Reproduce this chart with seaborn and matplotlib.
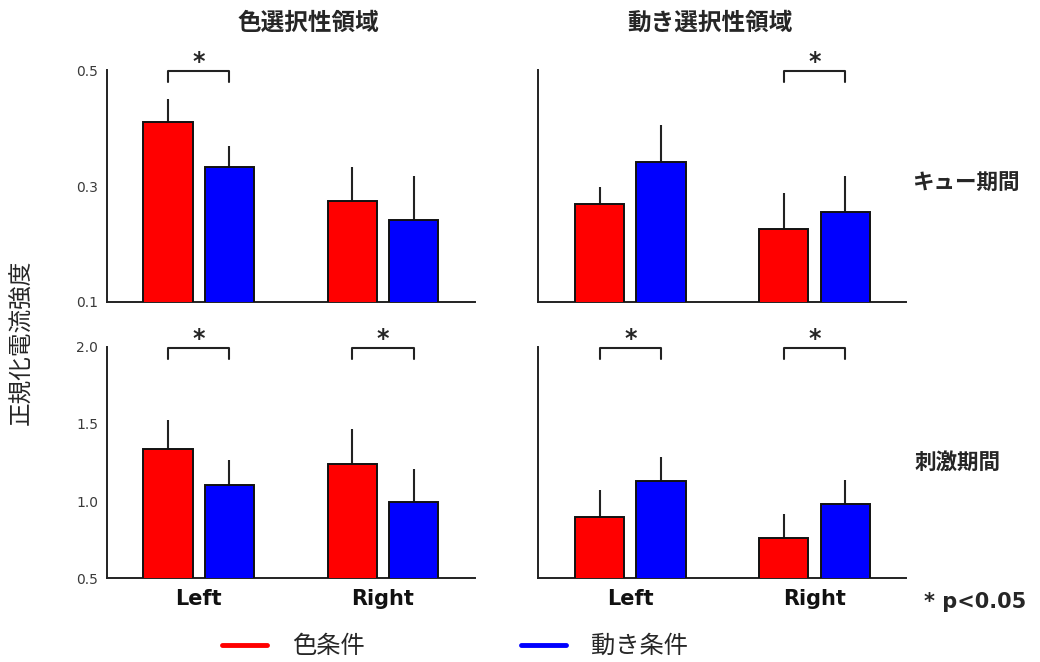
import matplotlib
matplotlib.use("Agg")
import matplotlib.pyplot as plt
from matplotlib.lines import Line2D
import pandas as pd
import seaborn as sns

# ---- data -------------------------------------------------------------
sides = ["Left", "Right"]
conditions = ["色条件", "動き条件"]
regions = ["色選択性領域", "動き選択性領域"]
periods = ["キュー期間", "刺激期間"]

# cue period, color-selective area
cue_colorarea_color = [0.411, 0.274]
cue_colorarea_motion = [0.333, 0.242]
cue_colorarea_color_err = [0.039, 0.058]
cue_colorarea_motion_err = [0.036, 0.075]

# cue period, motion-selective area
cue_motionarea_color = [0.269, 0.225]
cue_motionarea_motion = [0.342, 0.255]
cue_motionarea_color_err = [0.029, 0.063]
cue_motionarea_motion_err = [0.064, 0.063]

# stimulus period, color-selective area
stim_colorarea_color = [1.339, 1.238]
stim_colorarea_motion = [1.102, 0.995]
stim_colorarea_color_err = [0.183, 0.226]
stim_colorarea_motion_err = [0.162, 0.215]

# stimulus period, motion-selective area
stim_motionarea_color = [0.896, 0.760]
stim_motionarea_motion = [1.133, 0.978]
stim_motionarea_color_err = [0.174, 0.157]
stim_motionarea_motion_err = [0.152, 0.157]

# sides with p < 0.05
cue_colorarea_sig = ["Left"]
cue_motionarea_sig = ["Right"]
stim_colorarea_sig = ["Left", "Right"]
stim_motionarea_sig = ["Left", "Right"]

cue_ylim = (0.1, 0.5)
cue_yticks = [0.1, 0.3, 0.5]
stim_ylim = (0.5, 2.0)
stim_yticks = [0.5, 1.0, 1.5, 2.0]

# ---- style ------------------------------------------------------------
sns.set_style("white")
plt.rcParams["font.family"] = ["DejaVu Sans", "Noto Sans CJK JP"]
JP = ["Noto Sans CJK JP", "DejaVu Sans"]
palette = ["#ff0000", "#0000ff"]

fig = plt.figure(figsize=(10.4, 6.62), dpi=100)

col_x = [0.1026, 0.5176]
row_y = [0.544, 0.1264]
ax_w, ax_h = 0.354, 0.350

panels = [
    [(cue_colorarea_color, cue_colorarea_motion, cue_colorarea_color_err,
      cue_colorarea_motion_err, cue_colorarea_sig),
     (cue_motionarea_color, cue_motionarea_motion, cue_motionarea_color_err,
      cue_motionarea_motion_err, cue_motionarea_sig)],
    [(stim_colorarea_color, stim_colorarea_motion, stim_colorarea_color_err,
      stim_colorarea_motion_err, stim_colorarea_sig),
     (stim_motionarea_color, stim_motionarea_motion, stim_motionarea_color_err,
      stim_motionarea_motion_err, stim_motionarea_sig)],
]
row_limits = [(cue_ylim, cue_yticks), (stim_ylim, stim_yticks)]

for r in range(2):
    ylim, yticks = row_limits[r]
    span = ylim[1] - ylim[0]
    for c in range(2):
        col_vals, mot_vals, col_err, mot_err, sig = panels[r][c]
        df = pd.DataFrame({
            "side": sides * 2,
            "condition": [conditions[0]] * 2 + [conditions[1]] * 2,
            "value": col_vals + mot_vals,
        })
        ax = fig.add_axes([col_x[c], row_y[r], ax_w, ax_h])
        sns.barplot(data=df, x="side", y="value", hue="condition",
                    order=sides, hue_order=conditions, palette=palette,
                    saturation=1, width=0.667, gap=0.2, edgecolor="#111111",
                    linewidth=1.4, errorbar=None, legend=False, ax=ax,
                    zorder=3)
        # one-sided (upper) error bars
        for cont, errs in zip(ax.containers, [col_err, mot_err]):
            for bar, e in zip(cont, errs):
                xc = bar.get_x() + bar.get_width() / 2
                ax.errorbar(xc, bar.get_height(), yerr=[[0], [e]],
                            fmt="none", ecolor="#222222", elinewidth=1.5,
                            capsize=0, zorder=2)
        # significance brackets
        for s in sig:
            i = sides.index(s)
            b0 = ax.containers[0][i]
            b1 = ax.containers[1][i]
            x0 = b0.get_x() + b0.get_width() / 2
            x1 = b1.get_x() + b1.get_width() / 2
            top = ylim[1] - 0.005 * span
            leg = ylim[1] - 0.053 * span
            ax.plot([x0, x0, x1, x1], [leg, top, top, leg], color="#222222",
                    lw=1.5, clip_on=False, zorder=4)
            ax.text((x0 + x1) / 2, ylim[1] + 0.035 * span, "*",
                    ha="center", va="center", fontsize=17, fontweight="bold",
                    clip_on=False)

        ax.set_xlim(-0.5, 1.5)
        ax.set_ylim(*ylim)
        ax.set_yticks(yticks)
        ax.set_xlabel("")
        ax.set_ylabel("")
        sns.despine(ax=ax)
        for sp in ("left", "bottom"):
            ax.spines[sp].set_color("#222222")
            ax.spines[sp].set_linewidth(1.4)
        ax.tick_params(axis="y", direction="in", length=4, width=1.2,
                       color="#222222", labelsize=10, labelcolor="#3a3a3a",
                       pad=6, labelleft=(c == 0))
        ax.set_yticklabels([f"{t:.1f}" for t in yticks])
        ax.tick_params(axis="x", length=0, pad=8)
        if r == 0:
            ax.set_xticklabels([])
        else:
            ax.set_xticklabels(sides, fontsize=15, fontweight="bold",
                               color="#111111")
        ax.grid(False)

# column titles
fig.text(0.297, 0.966, regions[0], ha="center", va="center",
         fontsize=17, fontweight="bold", family=JP)
fig.text(0.683, 0.966, regions[1], ha="center", va="center",
         fontsize=17, fontweight="bold", family=JP)

# row labels
fig.text(0.877, 0.724, periods[0], ha="left", va="center",
         fontsize=15.5, fontweight="bold", family=JP)
fig.text(0.879, 0.302, periods[1], ha="left", va="center",
         fontsize=15.5, fontweight="bold", family=JP)
fig.text(0.888, 0.091, "* p<0.05", ha="left", va="center",
         fontsize=15, fontweight="bold")

# shared y label
fig.text(0.021, 0.483, "正規化電流強度", rotation=90, ha="center",
         va="center", fontsize=17, family=JP)

# legend
handles = [Line2D([], [], color=palette[0], lw=3.5),
           Line2D([], [], color=palette[1], lw=3.5)]
fig.legend(handles, conditions, loc="center", bbox_to_anchor=(0.4375, 0.024),
           ncol=2, frameon=False, handlelength=1.85, handletextpad=1.03,
           columnspacing=6.4, prop={"family": JP, "size": 17.5})

fig.savefig("out.png", dpi=100)
